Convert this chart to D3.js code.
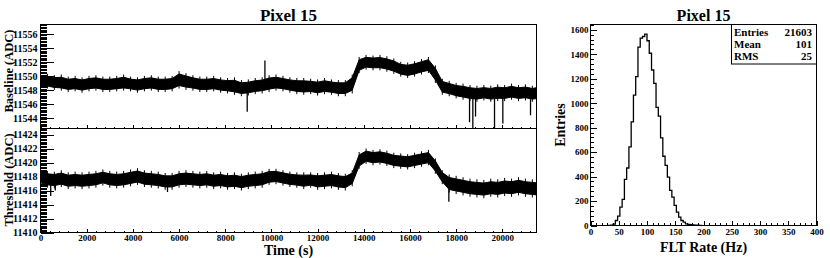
<!DOCTYPE html>
<html>
<head>
<meta charset="utf-8">
<script src="https://cdn.jsdelivr.net/npm/d3@7"></script>
<style>
  body { margin: 0; background: #fff; }
  text { font-family: "Liberation Serif", "Times New Roman", serif; font-weight: bold; fill: #000; }
</style>
</head>
<body>
<script>
// sample times (s) for the trace envelopes
const sampleTimes = [0, 300, 600, 900, 1200, 1500, 1800, 2100, 2400, 2700, 3000, 3300, 3600, 3900, 4200, 4500, 4800, 5100, 5400, 5700,
  6000, 6300, 6600, 6900, 7200, 7500, 7800, 8100, 8400, 8700, 9000, 9300, 9600, 9900, 10200, 10500, 10800, 11100, 11400, 11700,
  12000, 12300, 12600, 12900, 13200, 13500, 13800, 14100, 14400, 14700, 15000, 15300, 15600, 15900, 16200, 16500, 16800, 17100, 17400, 17700,
  18000, 18300, 18600, 18900, 19200, 19500, 19800, 20100, 20400, 20700, 21000, 21300, 21600]

// baseline trace: upper and lower edge of the noise band (ADC)
const baseHi = [11550.4, 11550.3, 11550.1, 11550.2, 11549.9, 11550.0, 11549.8, 11550.0, 11550.1, 11549.9,
  11549.9, 11550.0, 11550.2, 11549.9, 11549.8, 11550.0, 11550.1, 11549.9, 11549.9, 11550.0,
  11550.7, 11550.4, 11550.1, 11549.9, 11549.9, 11550.0, 11549.8, 11549.7, 11549.8, 11549.4,
  11549.5, 11549.7, 11549.8, 11550.1, 11550.2, 11550.0, 11549.8, 11549.7, 11549.7, 11549.6,
  11549.5, 11549.7, 11549.5, 11549.4, 11549.4, 11550.2, 11552.7, 11553.0, 11552.9, 11553.0,
  11552.8, 11552.5, 11552.0, 11551.9, 11552.1, 11552.4, 11552.7, 11551.5, 11549.6, 11549.3,
  11549.0, 11548.9, 11548.7, 11548.6, 11548.7, 11548.6, 11548.8, 11548.7, 11548.9, 11548.7,
  11548.8, 11548.6, 11548.8]
const baseLo = [11548.1, 11548.2, 11548.0, 11547.9, 11547.7, 11547.8, 11547.6, 11547.8, 11547.9, 11547.7,
  11547.7, 11547.8, 11547.9, 11547.8, 11547.6, 11547.8, 11547.9, 11547.7, 11547.7, 11547.8,
  11548.2, 11548.0, 11547.9, 11547.7, 11547.7, 11547.8, 11547.6, 11547.5, 11547.3, 11547.1,
  11547.2, 11547.4, 11547.5, 11547.7, 11547.9, 11547.8, 11547.6, 11547.4, 11547.3, 11547.4,
  11547.2, 11547.4, 11547.3, 11547.1, 11547.1, 11547.5, 11550.4, 11550.9, 11550.8, 11550.8,
  11550.6, 11550.3, 11549.9, 11549.7, 11549.9, 11550.2, 11550.4, 11549.0, 11547.3, 11547.1,
  11546.8, 11546.6, 11546.4, 11546.3, 11546.5, 11546.3, 11546.4, 11546.4, 11546.6, 11546.4,
  11546.5, 11546.3, 11546.4]
const baseSpikeTimes = [8952, 9719, 18580, 18723, 18840, 19662, 20022, 21221]
const baseSpikeValues = [11544.9, 11552.2, 11543.4, 11542.5, 11544.2, 11542.5, 11543.2, 11544.4]

// threshold trace: upper and lower edge of the noise band (ADC)
const thrHi = [11419.0, 11418.8, 11418.7, 11418.9, 11418.6, 11418.7, 11418.6, 11418.7, 11418.8, 11419.0,
  11418.8, 11418.7, 11418.8, 11419.0, 11419.2, 11418.9, 11418.8, 11418.7, 11418.5, 11418.5,
  11418.8, 11418.9, 11418.8, 11418.7, 11418.8, 11418.6, 11418.7, 11418.5, 11418.6, 11418.4,
  11418.6, 11418.7, 11418.8, 11419.1, 11419.1, 11418.9, 11418.7, 11418.6, 11418.6, 11418.6,
  11418.5, 11418.6, 11418.7, 11418.5, 11418.4, 11418.9, 11421.5, 11422.0, 11421.8, 11421.9,
  11421.7, 11421.4, 11421.3, 11421.2, 11421.4, 11421.6, 11421.8, 11420.6, 11418.9, 11418.3,
  11418.1, 11417.9, 11417.7, 11417.6, 11417.5, 11417.7, 11417.6, 11417.8, 11417.7, 11417.9,
  11417.7, 11417.6, 11417.5]
const thrLo = [11416.7, 11416.4, 11416.3, 11416.5, 11416.2, 11416.3, 11416.2, 11416.3, 11416.4, 11416.7,
  11416.4, 11416.3, 11416.4, 11416.6, 11416.8, 11416.5, 11416.4, 11416.3, 11416.1, 11416.1,
  11416.4, 11416.5, 11416.4, 11416.3, 11416.4, 11416.2, 11416.3, 11416.1, 11416.2, 11416.0,
  11416.2, 11416.3, 11416.4, 11416.8, 11416.9, 11416.7, 11416.5, 11416.4, 11416.2, 11416.4,
  11416.1, 11416.2, 11416.3, 11416.1, 11416.0, 11416.6, 11419.1, 11419.8, 11419.6, 11419.7,
  11419.5, 11419.2, 11419.1, 11419.0, 11419.2, 11419.4, 11419.6, 11418.4, 11416.9, 11415.7,
  11415.5, 11415.3, 11415.1, 11415.0, 11414.9, 11415.1, 11415.0, 11415.2, 11415.1, 11415.3,
  11415.1, 11415.0, 11414.9]
const thrSpikeTimes = [442, 641, 5500, 17684]
const thrSpikeValues = [11415.2, 11416.0, 11415.8, 11414.4]

// FLT rate histogram (4 Hz bins, lower edges)
const histBinLow = [32, 36, 40, 44, 48, 52, 56, 60, 64, 68, 72, 76, 80, 84, 88, 92, 96, 100, 104, 108,
  112, 116, 120, 124, 128, 132, 136, 140, 144, 148, 152, 156, 160, 164, 168, 172, 176, 180, 184, 188, 192]
const histCounts = [1, 3, 12, 41, 76, 150, 213, 377, 470, 642, 847, 1066, 1217, 1458, 1531, 1545, 1565, 1510, 1408, 1271,
  1162, 965, 894, 716, 566, 492, 396, 287, 232, 164, 109, 68, 41, 27, 14, 10, 6, 4, 3, 2, 1]
const histBinWidth = 4

const statsLabels = ["Entries", "Mean", "RMS"]
const statsValues = ["21603", "101", "25"]

const svg = d3.select("body").append("svg")
  .attr("width", 830)
  .attr("height", 258)

// scales
const x = d3.scaleLinear().domain([0, 21480]).range([40.5, 536.5])
const yB = d3.scaleLinear().domain([11542.5, 11557.33]).range([128.5, 24.5])
const yT = d3.scaleLinear().domain([11410, 11424.86]).range([232.5, 128.5])
const xH = d3.scaleLinear().domain([0, 400]).range([590.5, 816.5])
const yH = d3.scaleLinear().domain([0, 1643]).range([225.5, 24.5])

function stepValues(lo, hi, step) {
  const a = Math.ceil(lo / step - 1e-6), b = Math.floor(hi / step + 1e-6)
  return d3.range(a, b + 1).map((k) => +(k * step).toFixed(4))
}

function drawAxis(axisMaker, scale, pos, majors, minors, majLen, minLen, pad, fontSize, showLabels) {
  const g = svg.append("g").attr("transform", pos)
  g.append("g").call(axisMaker(scale).tickValues(minors).tickSize(-minLen).tickFormat(""))
  const maj = g.append("g").call(axisMaker(scale).tickValues(majors).tickSize(-majLen).tickPadding(pad)
    .tickFormat(showLabels ? d3.format("d") : ""))
  g.selectAll(".domain").remove()
  g.selectAll("line").attr("stroke", "#000").attr("shape-rendering", "crispEdges")
  maj.selectAll("text").style("font-size", fontSize + "px")
  return g
}

// traces: solid core of the noise band with thin hairs out to the band edges
function drawTrace(yScale, hi, lo, spikeT, spikeV, clipId, y0, y1) {
  svg.append("clipPath").attr("id", clipId)
    .append("rect").attr("x", 40.5).attr("y", y0).attr("width", 496).attr("height", y1 - y0)
  const g = svg.append("g").attr("clip-path", `url(#${clipId})`)
  const data = sampleTimes.map((t, i) => ({ t, hi: hi[i], lo: lo[i] }))
  const core = d3.area()
    .x((d) => x(d.t))
    .y0((d) => yScale(d.lo + 0.17 * (d.hi - d.lo)))
    .y1((d) => yScale(d.hi - 0.17 * (d.hi - d.lo)))
  g.append("path").datum(data).attr("d", core)
    .attr("fill", "#000").attr("stroke", "#000").attr("stroke-width", 1)
  data.forEach((d) => {
    g.append("line").attr("x1", x(d.t)).attr("x2", x(d.t))
      .attr("y1", yScale(d.hi)).attr("y2", yScale(d.lo))
      .attr("stroke", "#000").attr("stroke-width", 1)
  })
  const bis = d3.bisector((d) => d.t).left
  spikeT.forEach((t, i) => {
    const j = Math.min(bis(data, t), data.length - 1)
    const mid = (data[j].hi + data[j].lo) / 2
    g.append("line")
      .attr("x1", x(t)).attr("x2", x(t))
      .attr("y1", yScale(mid)).attr("y2", yScale(spikeV[i]))
      .attr("stroke", "#000").attr("stroke-width", 1.3)
  })
}

drawTrace(yB, baseHi, baseLo, baseSpikeTimes, baseSpikeValues, "clipB", 24.5, 128.5)
drawTrace(yT, thrHi, thrLo, thrSpikeTimes, thrSpikeValues, "clipT", 128.5, 232.5)

// frames
svg.append("rect").attr("x", 40.5).attr("y", 24.5).attr("width", 496).attr("height", 104)
  .attr("fill", "none").attr("stroke", "#000")
svg.append("rect").attr("x", 40.5).attr("y", 128.5).attr("width", 496).attr("height", 104)
  .attr("fill", "none").attr("stroke", "#000")

// axes, left panels
drawAxis(d3.axisLeft, yB, "translate(40.5,0)", stepValues(11544, 11557.3, 2), stepValues(11542.6, 11557.3, 0.2), 13, 6.5, 3, 10, true)
drawAxis(d3.axisLeft, yT, "translate(40.5,0)", stepValues(11410, 11424.8, 2), stepValues(11410, 11424.8, 0.2), 13, 6.5, 3, 10, true)
drawAxis(d3.axisBottom, x, "translate(0,128.5)", stepValues(0, 21480, 2000), stepValues(0, 21480, 400), 4, 2, 3, 9, false)
drawAxis(d3.axisBottom, x, "translate(0,232.5)", stepValues(0, 21480, 2000), stepValues(0, 21480, 400), 4, 2, 2, 9, true)

// histogram
const histPts = [[histBinLow[0], 0]]
histBinLow.forEach((b, i) => histPts.push([b, histCounts[i]]))
histPts.push([histBinLow[histBinLow.length - 1] + histBinWidth, 0])
const histLine = d3.line()
  .x((d) => xH(d[0]))
  .y((d) => yH(d[1]))
  .curve(d3.curveStepAfter)
svg.append("line").attr("x1", xH(0)).attr("x2", xH(400)).attr("y1", yH(0)).attr("y2", yH(0))
  .attr("stroke", "#000")
svg.append("path").datum(histPts).attr("d", histLine)
  .attr("fill", "none").attr("stroke", "#000").attr("stroke-width", 1.3)

svg.append("rect").attr("x", 590.5).attr("y", 24.5).attr("width", 226).attr("height", 201)
  .attr("fill", "none").attr("stroke", "#000")
drawAxis(d3.axisLeft, yH, "translate(590.5,0)", stepValues(0, 1643, 200), stepValues(0, 1643, 40), 6, 3, 2, 9, true)
drawAxis(d3.axisBottom, xH, "translate(0,225.5)", stepValues(0, 400, 50), stepValues(0, 400, 10), 5, 2.5, 3, 9, true)

// stats box
svg.append("rect").attr("x", 731.5).attr("y", 24.5).attr("width", 85).attr("height", 39.5)
  .attr("fill", "#fff").attr("stroke", "#000")
statsLabels.forEach((s, i) => {
  svg.append("text").attr("x", 734).attr("y", 36 + i * 12).style("font-size", "11px").text(s)
  svg.append("text").attr("x", 812).attr("y", 36 + i * 12).attr("text-anchor", "end")
    .style("font-size", "11px").text(statsValues[i])
})

// titles
svg.append("text").attr("x", 288.5).attr("y", 20.5).attr("text-anchor", "middle")
  .style("font-size", "17px").text("Pixel 15")
svg.append("text").attr("x", 703.5).attr("y", 20.5).attr("text-anchor", "middle")
  .style("font-size", "16px").text("Pixel 15")
svg.append("text").attr("x", 288.5).attr("y", 255).attr("text-anchor", "middle")
  .style("font-size", "14px").text("Time (s)")
svg.append("text").attr("x", 703.5).attr("y", 252).attr("text-anchor", "middle")
  .style("font-size", "14px").text("FLT Rate (Hz)")
svg.append("text").attr("transform", "translate(13,71) rotate(-90)").attr("text-anchor", "middle")
  .style("font-size", "12.5px").text("Baseline (ADC)")
svg.append("text").attr("transform", "translate(13,180) rotate(-90)").attr("text-anchor", "middle")
  .style("font-size", "12.5px").text("Threshold (ADC)")
svg.append("text").attr("transform", "translate(565,125) rotate(-90)").attr("text-anchor", "middle")
  .style("font-size", "14px").text("Entries")
</script>
</body>
</html>
